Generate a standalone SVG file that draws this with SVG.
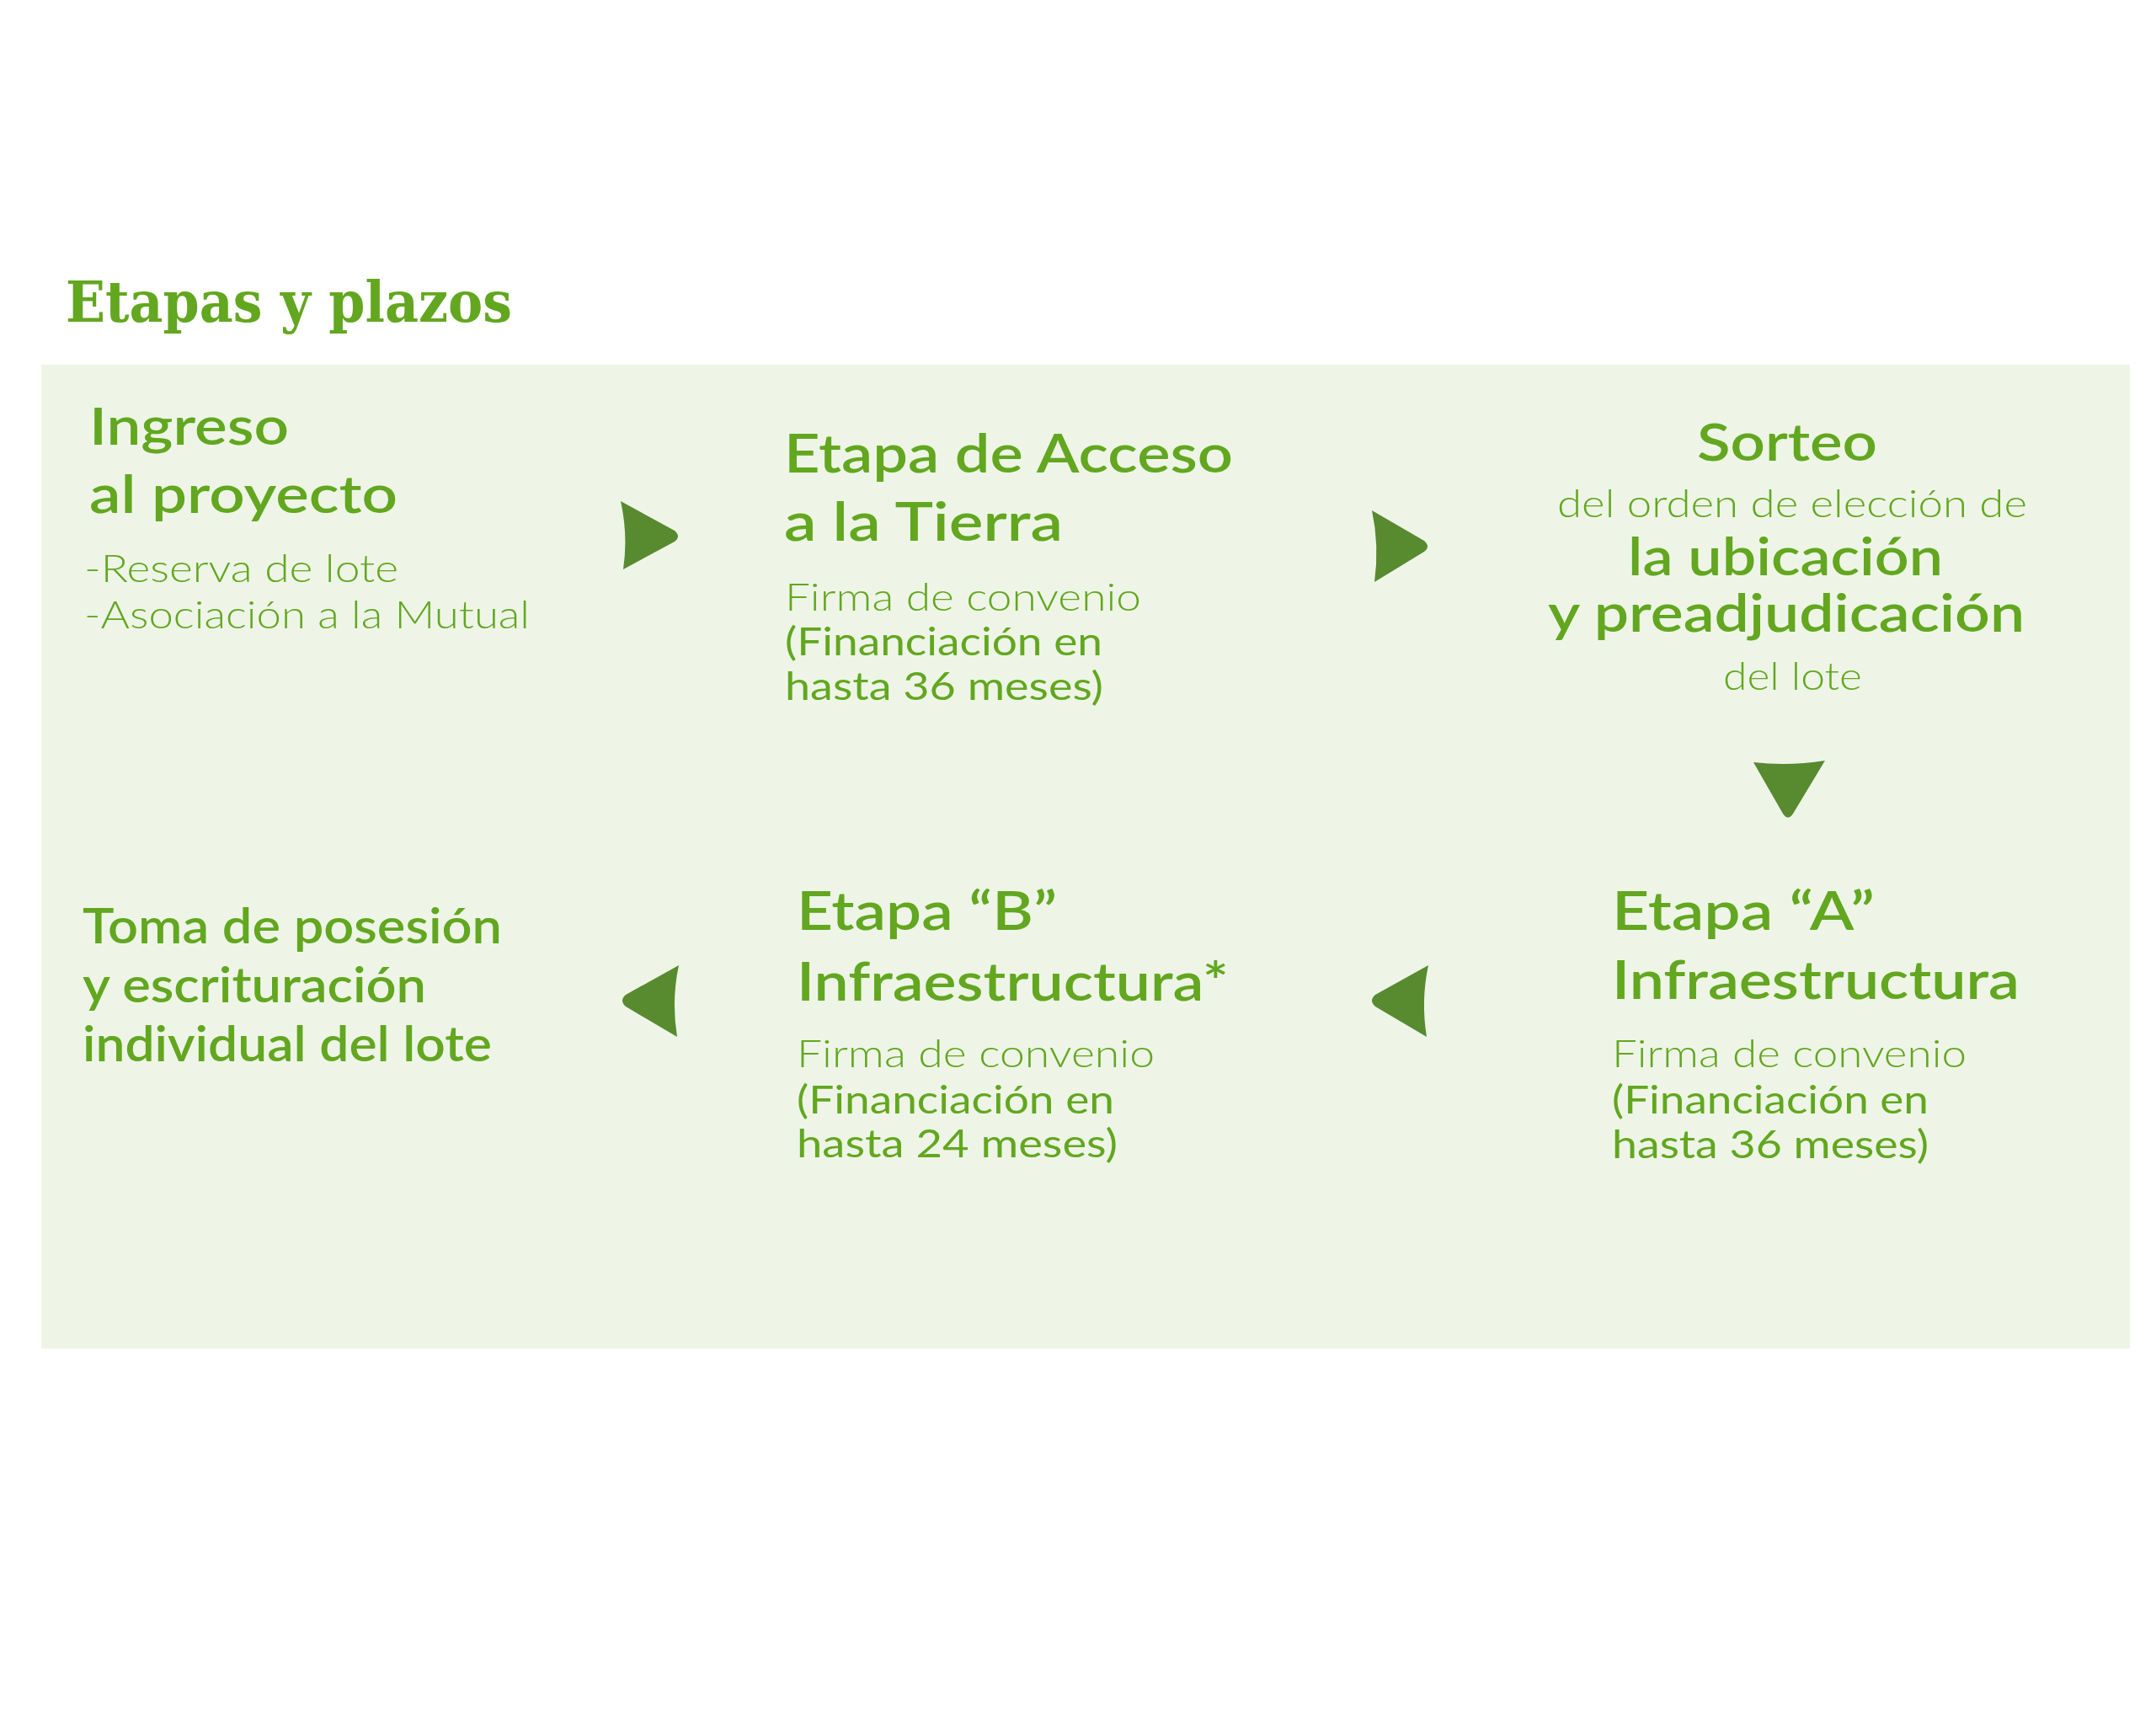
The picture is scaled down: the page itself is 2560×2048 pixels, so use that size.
<svg xmlns="http://www.w3.org/2000/svg" width="2560" height="2048" viewBox="0 0 2560 2048">
<style>
.t{fill:#62A71F;font-family:Lato,"Open Sans","Noto Sans",sans-serif}
.h{font-weight:600}
.l{font-weight:300}
.r{font-weight:400}
.arrow{fill:#588A30}
</style>
<rect width="2560" height="2048" fill="#FFFFFF"/>
<text x="78" y="382" style="fill:#62A71F;font-family:'DejaVu Serif',serif;font-weight:700;font-size:68px" textLength="530" lengthAdjust="spacingAndGlyphs">Etapas y plazos</text>
<rect id="panel" x="49" y="433" width="2480" height="1168" fill="#EEF5E7"/>
<g id="connectors">
<path class="arrow" d="M737,595 Q746,636 740,676 L801,643 Q809,637 801,630 Z"/>
<path class="arrow" d="M1629,606 Q1638,648 1632,691 L1691,655 Q1699,649 1691,642 Z"/>
<path class="arrow" d="M2082,905 Q2124,910 2167,903 L2129,966 Q2123,975 2117,966 Z"/>
<path class="arrow" d="M1696,1146 Q1687,1188 1694,1231 L1633,1195 Q1625,1188 1633,1181 Z"/>
<path class="arrow" d="M806,1146 Q797,1188 804,1231 L743,1195 Q735,1188 743,1181 Z"/>
</g>
<g id="ingreso">
<text class="t h" x="106" y="528" font-size="62" textLength="237" lengthAdjust="spacingAndGlyphs">Ingreso</text>
<text class="t h" x="106" y="609" font-size="62" textLength="366" lengthAdjust="spacingAndGlyphs">al proyecto</text>
<text class="t l" x="100" y="691" font-size="45" textLength="373" lengthAdjust="spacingAndGlyphs">-Reserva de lote</text>
<text class="t l" x="100" y="746" font-size="45" textLength="529" lengthAdjust="spacingAndGlyphs">-Asociación a la Mutual</text>
</g>
<g id="acceso">
<text class="t h" x="931" y="561" font-size="64" textLength="533" lengthAdjust="spacingAndGlyphs">Etapa de Acceso</text>
<text class="t h" x="931" y="642" font-size="64" textLength="331" lengthAdjust="spacingAndGlyphs">a la Tierra</text>
<text class="t l" x="932" y="725" font-size="46" textLength="423" lengthAdjust="spacingAndGlyphs">Firma de convenio</text>
<text class="t r" x="932" y="778" font-size="46" textLength="377" lengthAdjust="spacingAndGlyphs">(Financiación en</text>
<text class="t r" x="932" y="831" font-size="46" textLength="378" lengthAdjust="spacingAndGlyphs">hasta 36 meses)</text>
</g>
<g id="sorteo">
<text class="t h" x="2015" y="547" font-size="62" textLength="214" lengthAdjust="spacingAndGlyphs">Sorteo</text>
<text class="t l" x="1849" y="614" font-size="46" textLength="558" lengthAdjust="spacingAndGlyphs">del orden de elección de</text>
<text class="t h" x="1933" y="683" font-size="62" textLength="374" lengthAdjust="spacingAndGlyphs">la ubicación</text>
<text class="t h" x="1838" y="750" font-size="62" textLength="566" lengthAdjust="spacingAndGlyphs">y preadjudicación</text>
<text class="t l" x="2046" y="819" font-size="46" textLength="165" lengthAdjust="spacingAndGlyphs">del lote</text>
</g>
<g id="etapa-a">
<text class="t h" x="1914" y="1104" font-size="64" textLength="312" lengthAdjust="spacingAndGlyphs">Etapa “A”</text>
<text class="t h" x="1914" y="1186" font-size="64" textLength="484" lengthAdjust="spacingAndGlyphs">Infraestructura</text>
<text class="t l" x="1914" y="1267" font-size="46" textLength="421" lengthAdjust="spacingAndGlyphs">Firma de convenio</text>
<text class="t r" x="1914" y="1322" font-size="46" textLength="376" lengthAdjust="spacingAndGlyphs">(Financiación en</text>
<text class="t r" x="1914" y="1375" font-size="46" textLength="376" lengthAdjust="spacingAndGlyphs">hasta 36 meses)</text>
</g>
<g id="etapa-b">
<text class="t h" x="946" y="1104" font-size="64" textLength="309" lengthAdjust="spacingAndGlyphs">Etapa “B”</text>
<text class="t h" x="946" y="1188" font-size="64" textLength="513" lengthAdjust="spacingAndGlyphs">Infraestructura*</text>
<text class="t l" x="946" y="1267" font-size="46" textLength="425" lengthAdjust="spacingAndGlyphs">Firma de convenio</text>
<text class="t r" x="946" y="1322" font-size="46" textLength="377" lengthAdjust="spacingAndGlyphs">(Financiación en</text>
<text class="t r" x="946" y="1374" font-size="46" textLength="381" lengthAdjust="spacingAndGlyphs">hasta 24 meses)</text>
</g>
<g id="toma">
<text class="t h" x="98" y="1120" font-size="57" textLength="498" lengthAdjust="spacingAndGlyphs">Toma de posesión</text>
<text class="t h" x="98" y="1190" font-size="57" textLength="408" lengthAdjust="spacingAndGlyphs">y escrituración</text>
<text class="t h" x="98" y="1260" font-size="57" textLength="486" lengthAdjust="spacingAndGlyphs">individual del lote</text>
</g>
</svg>
